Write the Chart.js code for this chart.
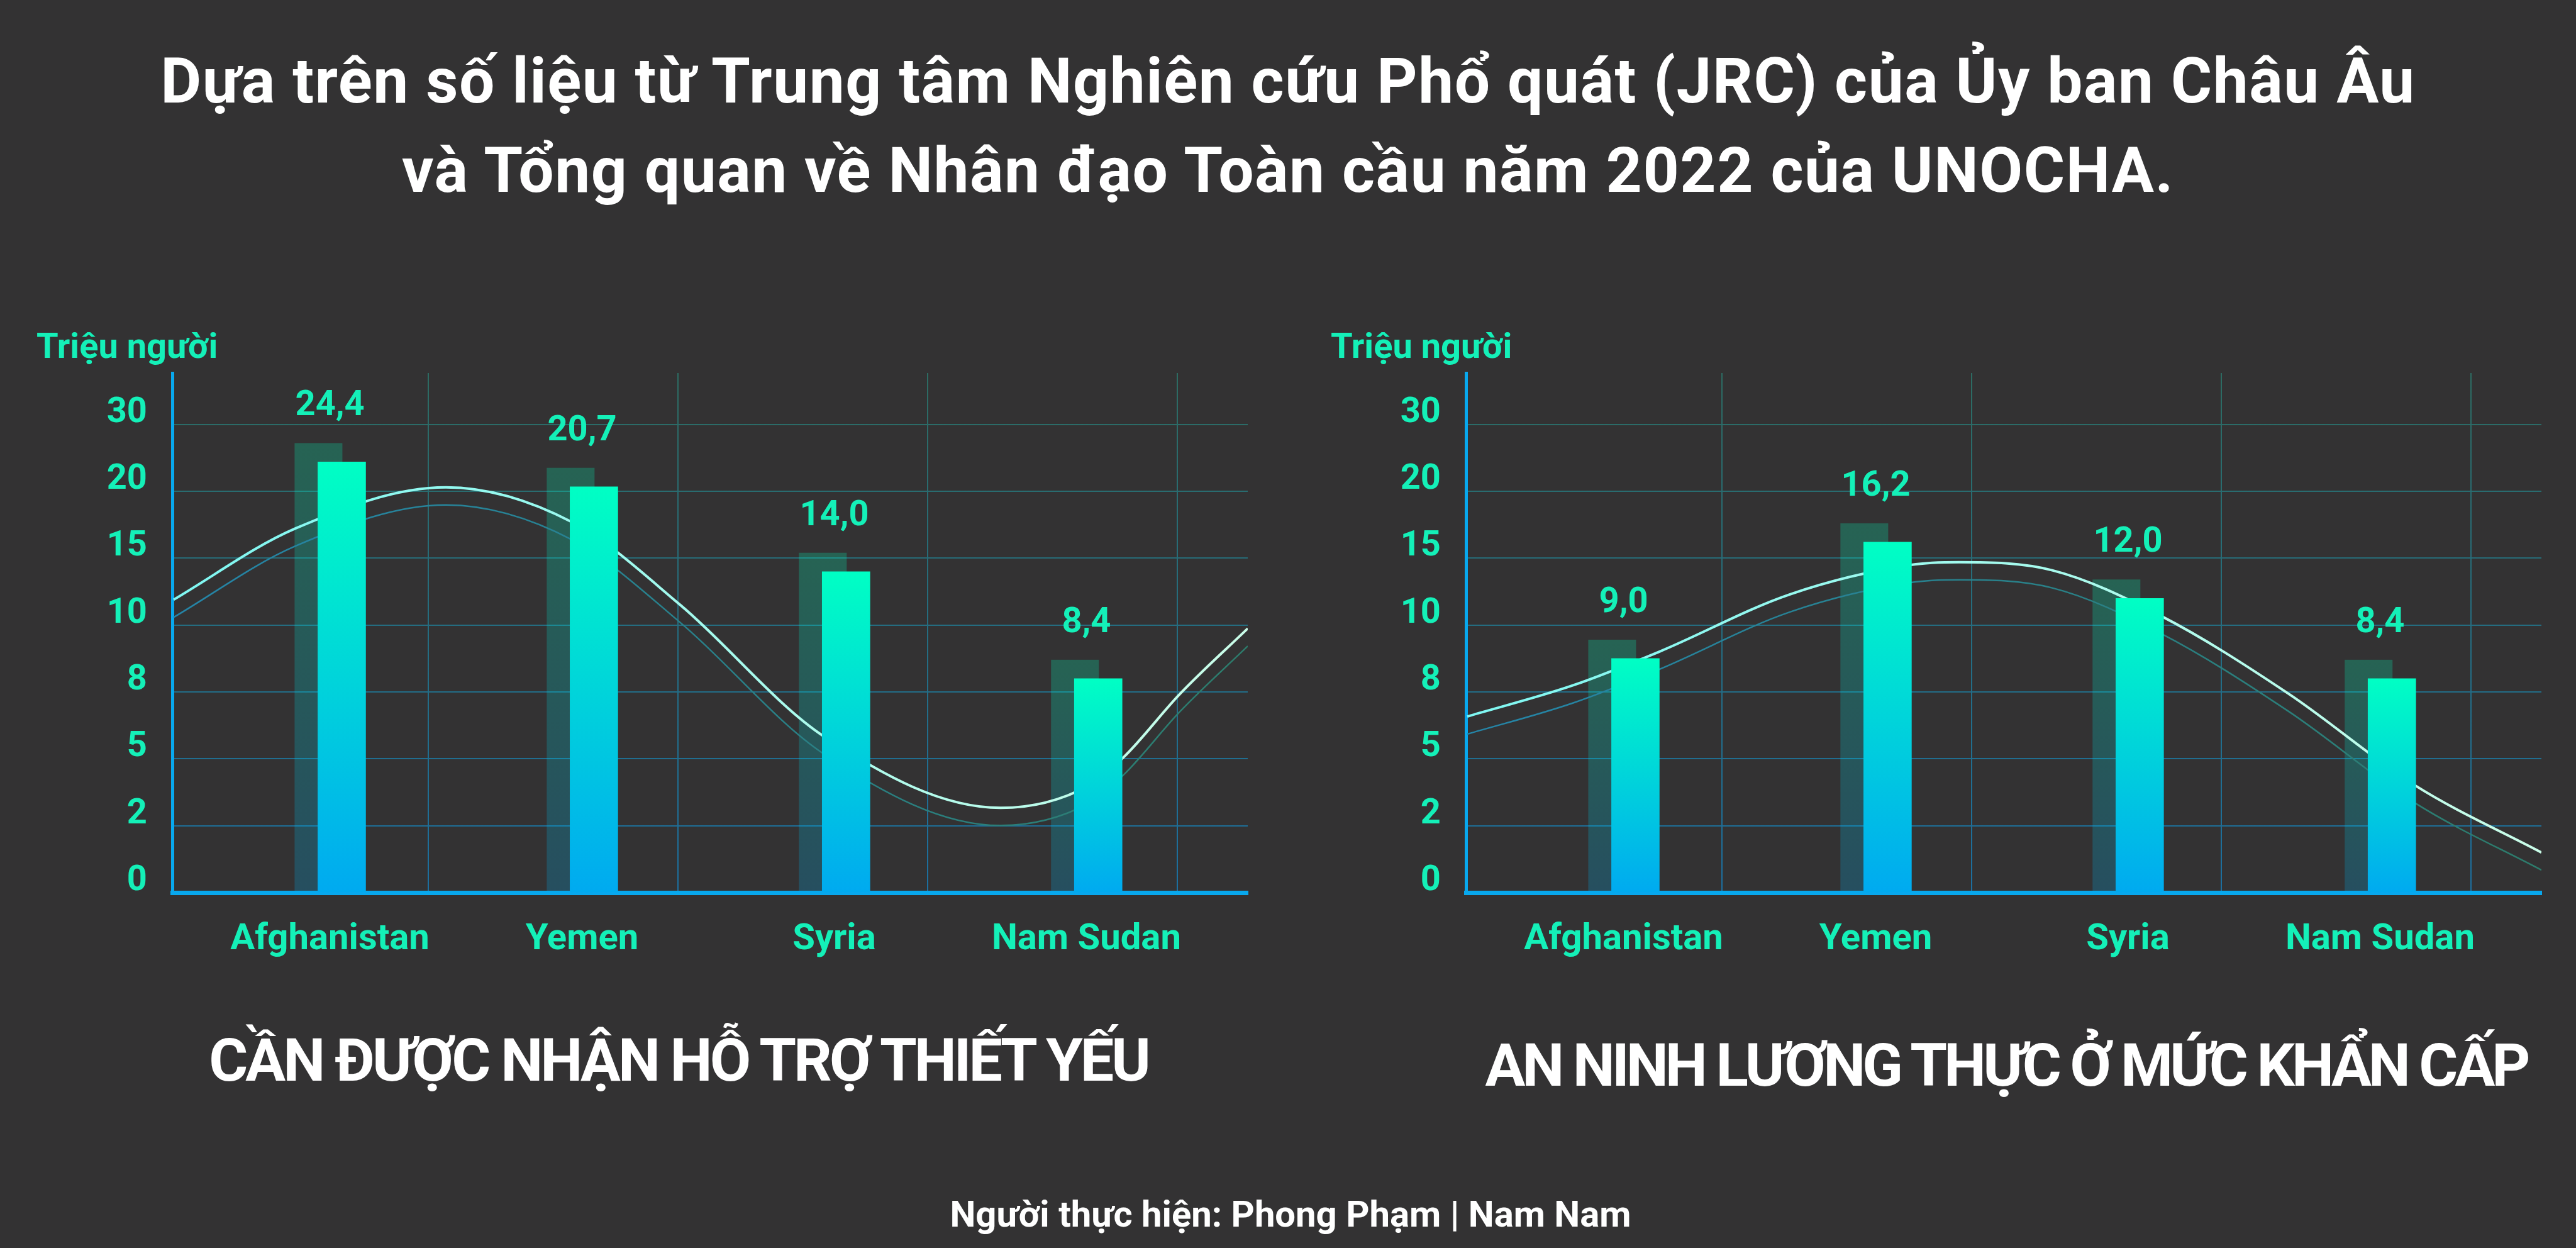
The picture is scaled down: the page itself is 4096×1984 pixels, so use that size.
<!DOCTYPE html>
<html lang="vi">
<head>
<meta charset="utf-8">
<title>Khủng hoảng nhân đạo 2022</title>
<script src="https://cdn.jsdelivr.net/npm/chart.js@4.4.1/dist/chart.umd.min.js"></script>
<style>
  html, body { margin: 0; padding: 0; background: #333233; }
  #page {
    position: relative; width: 4096px; height: 1984px; overflow: hidden;
    font-family: Roboto, "Noto Sans", sans-serif; font-weight: 700;
  }
  .title {
    position: absolute; left: 0; top: 58px; width: 4096px;
    text-align: center; color: #fff; font-size: 100px; line-height: 142px; letter-spacing: 1.5px;
  }
  .unit { position: absolute; top: 522px; color: #14f0b8; font-size: 56px; line-height: 56px; }
  canvas { position: absolute; top: 500px; }
  .sub {
    position: absolute; color: #fff; font-size: 95px; line-height: 95px;
    text-align: center; letter-spacing: -4px; white-space: nowrap;
  }
  .credit {
    position: absolute; left: 0; top: 1901px; width: 4104px; text-align: center;
    color: #fff; font-size: 58px; line-height: 58px;
  }
</style>
</head>
<body>
<div id="page">
  <div class="title">Dựa trên số liệu từ Trung tâm Nghiên cứu Phổ quát (JRC) của Ủy ban Châu Âu<br>và Tổng quan về Nhân đạo Toàn cầu năm 2022 của UNOCHA.</div>

  <div class="unit" style="left:58px">Triệu người</div>
  <div class="unit" style="left:2116px">Triệu người</div>

  <canvas id="needChart" width="2040" height="1100" style="left:0"></canvas>
  <canvas id="foodChart" width="2040" height="1100" style="left:2057px"></canvas>

  <div class="sub" style="left:0; width:2158px; top:1638px">CẦN ĐƯỢC NHẬN HỖ TRỢ THIẾT YẾU</div>
  <div class="sub" style="left:2284px; width:1812px; top:1646px; letter-spacing:-5px">AN NINH LƯƠNG THỰC Ở MỨC KHẨN CẤP</div>

  <div class="credit">Người thực hiện: Phong Phạm | Nam Nam</div>
</div>

<script>
const countries = ["Afghanistan", "Yemen", "Syria", "Nam Sudan"];
const needAid = [24.4, 20.7, 14.0, 8.4];
const foodCrisis = [9.0, 16.2, 12.0, 8.4];

// the y axis is not linear: these ticks sit at equal steps
const yTicks = [0, 2, 5, 8, 10, 15, 20, 30];
const gridX = [0.39, 1.38, 2.37, 3.36];

// decorative trend curves (x in category units)
const needCurveX = [-0.62, -0.14, 0.46, 0.96, 1.39, 1.96, 2.66, 3.01, 3.15, 3.37, 3.64];
const needCurveY = [11.9, 17.2, 20.6, 17.7, 11.5, 6.0, 2.8, 3.8, 5.1, 7.9, 9.9];
const foodCurveX = [-0.62, -0.20, 0.14, 0.66, 1.14, 1.33, 1.70, 2.13, 2.64, 3.14, 3.64];
const foodCurveY = [6.9, 8.2, 9.2, 12.3, 14.5, 14.7, 14.1, 10.7, 7.9, 3.8, 1.2];

const MINT = "#14f0b8";
const AXIS_BLUE = "#08a8ee";
const Y_SPAN = 7.77;          // axis height in tick steps
const X_MIN = -0.625, X_MAX = 3.64;
const BAR_SHIFT = 0.047;      // bright bar sits a bit right of the category
const SHADOW_DX = -37, SHADOW_DY = -30;

function stepIndex(v) {
  if (v <= yTicks[0]) return 0;
  for (let k = 1; k < yTicks.length; k++) {
    if (v <= yTicks[k]) return k - 1 + (v - yTicks[k - 1]) / (yTicks[k] - yTicks[k - 1]);
  }
  const n = yTicks.length - 1;
  return n + (v - yTicks[n]) / (yTicks[n] - yTicks[n - 1]);
}

class StepScale extends Chart.LinearScale {
  buildTicks() {
    this.start = this.min;
    this.end = this.max;
    return yTicks.map((v) => ({ value: v }));
  }
  getPixelForValue(value) {
    if (value === null || isNaN(value)) return NaN;
    return this.getPixelForDecimal(stepIndex(value) / Y_SPAN);
  }
  getValueForPixel(pixel) {
    const idx = this.getDecimalForPixel(pixel) * Y_SPAN;
    const k = Math.max(0, Math.min(Math.floor(idx), yTicks.length - 2));
    return yTicks[k] + (idx - k) * (yTicks[k + 1] - yTicks[k]);
  }
}
StepScale.id = "steps";
StepScale.defaults = {};
Chart.register(StepScale);

function barFill(c) {
  const chart = c.chart;
  if (!chart.chartArea || c.type !== "data") return "#00d5d9";
  const y = chart.scales.y;
  const g = chart.ctx.createLinearGradient(0, y.getPixelForValue(c.parsed.y), 0, y.getPixelForValue(0));
  g.addColorStop(0, "#00ffc4");
  g.addColorStop(1, "#00aaf0");
  return g;
}

function sideGradient(left, right) {
  return (c) => {
    const a = c.chart.chartArea;
    if (!a) return left;
    const g = c.chart.ctx.createLinearGradient(a.left, 0, a.right, 0);
    g.addColorStop(0, left);
    g.addColorStop(1, right);
    return g;
  };
}

function gridColor(c) {
  const a = c.chart.chartArea;
  if (!a) return "#25707a";
  const g = c.chart.ctx.createLinearGradient(0, a.top, 0, a.bottom);
  g.addColorStop(0, "#2d6b62");
  g.addColorStop(1, "#1c6fa0");
  return g;
}

// dark back bars and the value labels, taken from the bright bars
const barDecor = {
  id: "barDecor",
  beforeDatasetsDraw(chart) {
    const ctx = chart.ctx;
    const base = chart.scales.y.getPixelForValue(0);
    chart.getDatasetMeta(0).data.forEach((bar) => {
      const top = bar.y + SHADOW_DY;
      const g = ctx.createLinearGradient(0, top, 0, base);
      g.addColorStop(0, "rgba(0,255,190,0.24)");
      g.addColorStop(1, "rgba(0,170,240,0.24)");
      ctx.fillStyle = g;
      ctx.fillRect(bar.x - bar.width / 2 + SHADOW_DX, top, bar.width, base - top);
    });
  },
  afterDatasetsDraw(chart) {
    const ctx = chart.ctx;
    const xs = chart.scales.x;
    const points = chart.data.datasets[0].data;
    ctx.save();
    ctx.font = "bold 56px Roboto";
    ctx.fillStyle = MINT;
    ctx.textAlign = "center";
    ctx.textBaseline = "alphabetic";
    chart.getDatasetMeta(0).data.forEach((bar, i) => {
      const label = points[i].y.toFixed(1).replace(".", ",");
      ctx.fillText(label, xs.getPixelForValue(i), bar.y - 74);
    });
    ctx.restore();
  }
};

// moves the shadow copy of the curve down a little
const lineShift = {
  id: "lineShift",
  beforeDatasetDraw(chart, args) {
    const dy = chart.data.datasets[args.index].shiftY;
    if (dy) {
      chart.ctx.save();
      chart.ctx.translate(0, dy);
    }
  },
  afterDatasetDraw(chart, args) {
    if (chart.data.datasets[args.index].shiftY) chart.ctx.restore();
  }
};

function drawChart(id, values, curveX, curveY) {
  const ctx = document.getElementById(id).getContext("2d");
  const bars = values.map((v, i) => ({ x: i + BAR_SHIFT, y: v }));
  const curve = curveX.map((x, i) => ({ x: x, y: curveY[i] }));

  return new Chart(ctx, {
    type: "bar",
    data: {
      datasets: [
        {
          type: "bar",
          data: bars,
          xAxisID: "x",
          yAxisID: "y",
          barThickness: 76,
          backgroundColor: barFill,
          order: 0,
        },
        {
          type: "line",
          data: curve,
          xAxisID: "x",
          yAxisID: "y",
          borderColor: sideGradient("#7ff7f2", "#cafde9"),
          borderWidth: 4,
          pointRadius: 0,
          cubicInterpolationMode: "monotone",
          order: 1,
        },
        {
          type: "line",
          data: curve,
          xAxisID: "x",
          yAxisID: "y",
          borderColor: sideGradient("#2585a8", "#2d7c6c"),
          borderWidth: 2.5,
          pointRadius: 0,
          cubicInterpolationMode: "monotone",
          order: 2,
          shiftY: 28,
        },
      ],
    },
    options: {
      responsive: false,
      animation: false,
      events: [],
      layout: { padding: { top: 93, right: 56, left: 0, bottom: 0 } },
      plugins: { legend: { display: false }, tooltip: { enabled: false } },
      scales: {
        x: {
          type: "linear",
          position: "bottom",
          min: X_MIN,
          max: X_MAX,
          offset: false,
          afterBuildTicks: (s) => { s.ticks = countries.map((_, i) => ({ value: i })); },
          afterFit: (s) => { s.height = 181; },
          grid: { display: false, drawTicks: false, offset: false },
          border: { color: AXIS_BLUE, width: 7 },
          ticks: {
            color: MINT,
            font: { family: "Roboto", size: 58, weight: "bold" },
            padding: 41,
            autoSkip: false,
            maxRotation: 0,
            callback: (v, i) => countries[i],
          },
        },
        xg: {
          type: "linear",
          position: "top",
          min: X_MIN,
          max: X_MAX,
          offset: false,
          afterBuildTicks: (s) => { s.ticks = gridX.map((v) => ({ value: v })); },
          afterFit: (s) => { s.height = 0; },
          grid: { color: gridColor, lineWidth: 2, drawTicks: false, offset: false },
          border: { display: false },
          ticks: { display: false },
        },
        y: {
          type: "steps",
          position: "left",
          min: 0,
          max: 30,
          afterFit: (s) => { s.width = 274; },
          grid: {
            color: (c) => (c.tick && c.tick.value === 0 ? "rgba(0,0,0,0)" : gridColor(c)),
            lineWidth: 2,
            drawTicks: false,
          },
          border: { color: AXIS_BLUE, width: 5 },
          ticks: {
            color: MINT,
            font: { family: "Roboto", size: 56, weight: "bold" },
            padding: 40,
            labelOffset: -18,
            autoSkip: false,
            callback: (v) => String(v),
          },
        },
      },
    },
    plugins: [barDecor, lineShift],
  });
}

document.fonts.load("bold 56px Roboto").then(() => {
  drawChart("needChart", needAid, needCurveX, needCurveY);
  drawChart("foodChart", foodCrisis, foodCurveX, foodCurveY);
});
</script>
</body>
</html>
